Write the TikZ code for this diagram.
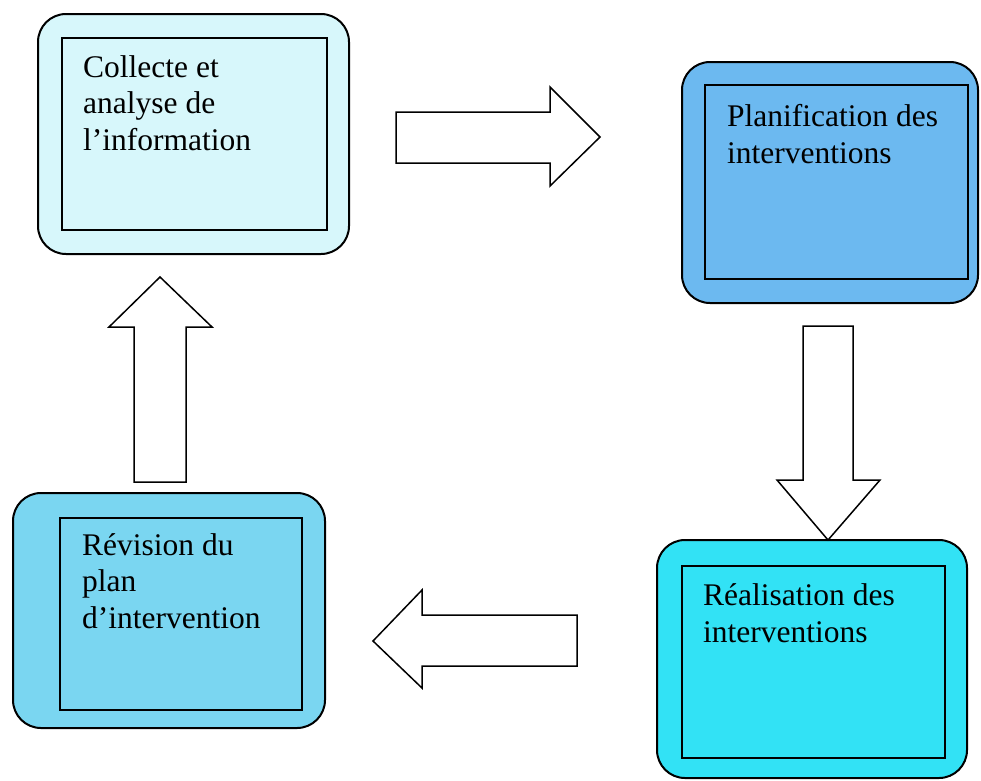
\documentclass[tikz,border=0pt]{standalone}
\usepackage{fontspec}
\setmainfont{Liberation Serif}
\definecolor{cA}{RGB}{215,247,251}
\definecolor{cB}{RGB}{108,185,240}
\definecolor{cC}{RGB}{50,226,245}
\definecolor{cD}{RGB}{122,214,241}
\begin{document}
\begin{tikzpicture}[x=1pt,y=-1pt,
  outerbox/.style={draw=black,line width=2pt,rounded corners=28pt,inner sep=0pt,outer sep=0pt},
  innerbox/.style={draw=black,line width=1.6pt,inner sep=0pt,outer sep=0pt},
  label/.style={anchor=base west,inner sep=0pt,align=left,font=\fontsize{31.5}{36.5}\selectfont},
  blockarrow/.style={draw=black,line width=1.5pt,fill=white,line join=miter}]
\useasboundingbox (0,0) rectangle (981,780);
% Box 1
\node[outerbox,fill=cA,minimum width=311pt,minimum height=240pt] (o1) at (193.5,134) {};
\node[innerbox,fill=cA,minimum width=265pt,minimum height=192pt] (i1) at (194.5,134) {};
\node[label] (t1) at (83,150) {Collecte et\\analyse de\\l’information};
% Box 2
\node[outerbox,fill=cB,minimum width=296pt,minimum height=241pt] (o2) at (830,182.5) {};
\node[innerbox,fill=cB,minimum width=263pt,minimum height=194pt] (i2) at (836.5,182) {};
\node[label] (t2) at (727,163) {Planification des\\interventions};
% Box 3
\node[outerbox,fill=cC,minimum width=310pt,minimum height=238pt] (o3) at (812,659) {};
\node[innerbox,fill=cC,minimum width=263pt,minimum height=192pt] (i3) at (813.5,662) {};
\node[label] (t3) at (703,642) {Réalisation des\\interventions};
% Box 4
\node[outerbox,fill=cD,minimum width=312pt,minimum height=235pt] (o4) at (169,610.5) {};
\node[innerbox,fill=cD,minimum width=242pt,minimum height=192pt] (i4) at (181,614) {};
\node[label] (t4) at (82,628) {Révision du\\plan\\d’intervention};
% Block arrows
\draw[blockarrow] (396,112) -- (550,112) -- (550,87) -- (600,137) -- (550,186) -- (550,163) -- (396,163) -- cycle;
\draw[blockarrow] (803,326) -- (853,326) -- (853,480) -- (880,480) -- (828,540) -- (777,480) -- (803,480) -- cycle;
\draw[blockarrow] (577,615) -- (422,615) -- (422,590) -- (373,641) -- (422,688) -- (422,666) -- (577,666) -- cycle;
\draw[blockarrow] (134,482) -- (134,327) -- (109,327) -- (160,277) -- (212,327) -- (186,327) -- (186,482) -- cycle;
\end{tikzpicture}
\end{document}
